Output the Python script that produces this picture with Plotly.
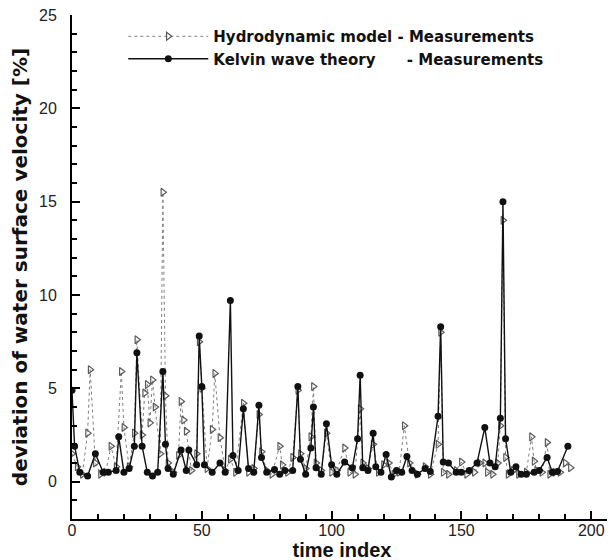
import plotly.graph_objects as go

# Kelvin wave theory - Measurements (solid, filled circles)
kelvin_x = [0, 1, 3, 6, 9, 12, 14, 17, 18, 20, 22, 24, 25, 27, 29, 31, 33, 35, 36, 37,
            39, 42, 44, 45, 48, 49, 50, 51, 54, 57, 59, 61, 62, 64, 66, 68, 70, 72, 73, 75,
            78, 80, 82, 85, 87, 88, 90, 92, 93, 94, 96, 98, 100, 102, 105, 108, 110, 111, 112, 114,
            116, 117, 119, 121, 123, 125, 127, 129, 131, 133, 136, 138, 141, 142, 143, 145, 148, 150, 153, 156,
            159, 161, 163, 165, 166, 167, 169, 171, 173, 175, 178, 180, 183, 185, 187, 191]
kelvin_y = [4.9, 1.9, 0.5, 0.3, 1.5, 0.5, 0.5, 0.6, 2.4, 0.5, 0.7, 1.9, 6.9, 1.9, 0.5, 0.3, 0.5, 5.9, 2.0, 0.7,
            0.4, 1.7, 0.6, 1.7, 0.9, 7.8, 5.1, 0.9, 0.5, 1.0, 0.5, 9.7, 1.4, 0.6, 3.9, 0.7, 0.5, 4.1, 1.3, 0.5,
            0.65, 0.4, 0.6, 0.6, 5.1, 1.2, 0.4, 1.8, 4.0, 0.75, 0.4, 3.1, 0.9, 0.4, 1.05, 0.75, 2.3, 5.7, 0.75, 0.6,
            2.6, 0.8, 0.5, 1.45, 0.25, 0.6, 0.5, 1.35, 0.6, 0.4, 0.7, 0.55, 3.5, 8.3, 1.05, 1.0, 0.5, 0.5, 0.6, 1.0,
            2.9, 1.0, 0.8, 3.4, 15.0, 2.3, 0.5, 0.8, 0.4, 0.4, 0.5, 0.6, 1.3, 0.5, 0.55, 1.9]

# Hydrodynamic model - Measurements (dotted, open triangles)
hydro_x = [0, 2, 4, 6, 7, 9, 11, 13, 15, 17, 19, 20, 22, 24, 25, 27, 28, 29, 30, 31,
           32, 34, 35, 36, 37, 39, 41, 42, 43, 44, 46, 48, 49, 50, 52, 54, 55, 57, 59, 61,
           63, 66, 68, 70, 72, 73, 75, 77, 80, 81, 83, 85, 87, 88, 90, 92, 93, 94, 96, 98,
           100, 102, 105, 107, 109, 111, 112, 114, 116, 118, 120, 122, 124, 126, 128, 130, 133, 136, 138, 141,
           142, 143, 145, 148, 150, 152, 155, 157, 159, 160, 162, 164, 165, 166, 167, 168, 170, 172, 175, 177,
           178, 179, 181, 183, 184, 186, 188, 190, 192]
hydro_y = [1.5, 0.8, 0.4, 2.6, 6.0, 1.0, 0.4, 0.5, 1.9, 0.8, 5.9, 2.9, 0.8, 2.6, 7.6, 2.5, 4.75, 5.2, 3.15, 5.45,
           4.0, 1.5, 15.5, 4.6, 1.0, 0.5, 1.4, 4.3, 3.3, 2.7, 0.6, 1.5, 7.5, 5.0, 0.7, 2.8, 5.8, 2.35, 0.6, 1.2,
           0.5, 4.2, 0.5, 0.7, 3.6, 1.6, 0.6, 0.4, 1.9, 0.9, 0.5, 1.3, 4.9, 1.5, 0.7, 2.4, 5.1, 1.0, 0.6, 2.6,
           0.5, 0.6, 1.8, 0.5, 0.4, 3.9, 1.0, 0.7, 2.0, 0.5, 0.9, 1.0, 0.4, 0.5, 3.0, 1.0, 0.4, 0.8, 0.4, 2.0,
           8.0, 0.5, 0.4, 0.6, 1.05, 0.4, 0.5, 1.0, 1.0, 0.5, 0.4, 1.0, 3.0, 14.0, 1.3, 0.4, 0.6, 0.4, 0.5, 2.4,
           1.1, 0.6, 0.5, 2.1, 0.4, 0.5, 0.5, 1.0, 0.75]

x_ticks = [0, 50, 100, 150, 200]
y_ticks = [0, 5, 10, 15, 20, 25]

NB = "\u00a0"
FONT = "Liberation Sans, Arial, sans-serif"
WFONT = "DejaVu Sans, Liberation Sans, sans-serif"

fig = go.Figure()
fig.add_trace(go.Scatter(
    x=hydro_x, y=hydro_y, mode="lines+markers",
    name="Hydrodynamic model - Measurements",
    line=dict(color="#808080", width=1, dash="dot"),
    marker=dict(symbol="triangle-right-open", size=7, color="#5a5a5a",
                line=dict(width=1.2, color="#5a5a5a")),
))
fig.add_trace(go.Scatter(
    x=kelvin_x, y=kelvin_y, mode="lines+markers",
    name="Kelvin wave theory" + NB * 6 + "- Measurements",
    line=dict(color="#111111", width=1.4),
    marker=dict(symbol="circle", size=7, color="#111111"),
))

axis_common = dict(
    showline=True, linecolor="black", linewidth=2, mirror=False,
    showgrid=False, zeroline=False, automargin=False,
    ticks="inside", ticklen=8, tickwidth=2, tickcolor="black",
    tickfont=dict(family=FONT, size=16, color="#222222"),
    ticklabeloverflow="allow",
)

fig.update_layout(
    width=615, height=560,
    margin=dict(l=64, r=11, t=7, b=49),
    paper_bgcolor="white", plot_bgcolor="white",
    font=dict(family=FONT, color="black"),
    showlegend=True,
    legend=dict(
        x=0.095, y=0.99, xanchor="left", yanchor="top",
        bgcolor="rgba(0,0,0,0)",
        font=dict(family=WFONT, size=15, color="#111111", weight="bold"),
        itemwidth=80, tracegroupgap=0,
    ),
    xaxis=dict(
        range=[0, 208], tickvals=x_ticks, ticktext=[str(v) for v in x_ticks],
        minor=dict(dtick=10, ticks="inside", ticklen=5, tickwidth=1.5, tickcolor="black"),
        ticklabelstandoff=-4,
        title=dict(text="time index", standoff=0,
                   font=dict(family=FONT, size=20, color="#111111", weight="bold")),
        **axis_common,
    ),
    yaxis=dict(
        range=[-2, 25], tickvals=y_ticks, ticktext=[str(v) for v in y_ticks],
        minor=dict(dtick=1, ticks="inside", ticklen=5, tickwidth=1.5, tickcolor="black"),
        ticklabelstandoff=10,
        title=dict(text="deviation of water surface velocity [%]", standoff=9,
                   font=dict(family=WFONT, size=20, color="#111111", weight="bold")),
        **axis_common,
    ),
)

fig.write_html("out.html")
